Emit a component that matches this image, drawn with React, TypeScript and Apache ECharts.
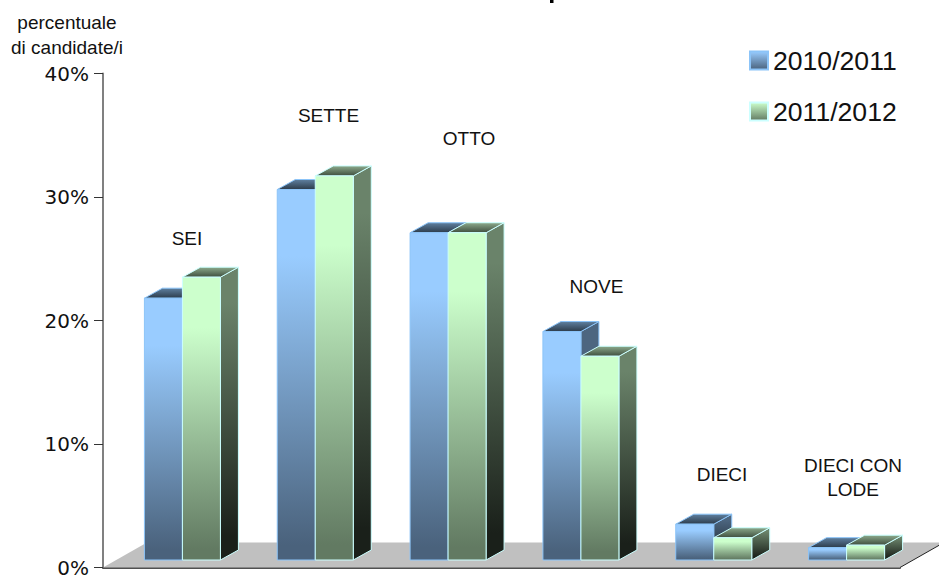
import React, { useEffect, useRef } from "react";
import * as echarts from "echarts";

const categories = ["SEI", "SETTE", "OTTO", "NOVE", "DIECI", "DIECI CON LODE"];
const seriesNames = ["2010/2011", "2011/2012"];
const values2010 = [21.2, 30.0, 26.5, 18.5, 2.9, 1.0];
const values2011 = [22.9, 31.1, 26.5, 16.5, 1.8, 1.2];
const yTicks = [0, 10, 20, 30, 40];

const FONT = '"Liberation Sans", Arial, sans-serif';
const DEPTH_X = 18;
const DEPTH_Y = 10;
const LIFT = 7.5;
const BAR_RATIO = 38 / 132.83;
const SHIFT = 13;

const vGrad = (a: string, b: string, hold = 0, end = 1) =>
  new echarts.graphic.LinearGradient(0, 0, 0, 1, [
    { offset: 0, color: a },
    { offset: hold, color: a },
    { offset: end, color: b },
    { offset: 1, color: b },
  ]);

const palette = [
  {
    front: ["#99CCFF", "#4A627C"],
    side: ["#4D6680", "#172027"],
    top: ["#5F80A0", "#2C3B4A"],
    edge: "#8CC4F8",
  },
  {
    front: ["#CCFFCC", "#627A62"],
    side: ["#6A836A", "#1A201A"],
    top: ["#8CAA8C", "#3E4E3E"],
    edge: "#CCFFFF",
  },
];

function barRenderer(idx: number) {
  const c = palette[idx];
  return (_p: any, api: any) => {
    const cat = api.value(0);
    const v = api.value(1);
    const base = api.coord([cat, 0]);
    const top = api.coord([cat, v]);
    const w = api.size([1, 0])[0] * BAR_RATIO;
    const x0 = base[0] + SHIFT + (idx === 0 ? -w : 0);
    const x1 = x0 + w;
    const yb = base[1] - LIFT;
    const yt = top[1] - LIFT;
    const lineW = { stroke: c.edge, lineWidth: 1 };
    return {
      type: "group",
      children: [
        {
          type: "polygon",
          shape: {
            points: [
              [x1, yt],
              [x1 + DEPTH_X, yt - DEPTH_Y],
              [x1 + DEPTH_X, yb - DEPTH_Y],
              [x1, yb],
            ],
          },
          style: { fill: vGrad(c.side[0], c.side[1], 0.12, 0.92), ...lineW },
        },
        {
          type: "polygon",
          shape: {
            points: [
              [x0, yt],
              [x0 + DEPTH_X, yt - DEPTH_Y],
              [x1 + DEPTH_X, yt - DEPTH_Y],
              [x1, yt],
            ],
          },
          style: { fill: vGrad(c.top[0], c.top[1]), ...lineW },
        },
        {
          type: "rect",
          shape: { x: x0, y: yt, width: w, height: yb - yt },
          style: { fill: vGrad(c.front[0], c.front[1], 0.18, 0.96), ...lineW },
        },
      ],
    };
  };
}

const floorRenderer = (p: any) => {
  const { x, y, width, height } = p.coordSys;
  const b = y + height;
  return {
    type: "group",
    children: [
      {
        type: "polygon",
        shape: {
          points: [
            [x, b],
            [x + width, b],
            [x + width + 44, b - 25],
            [x + 44, b - 25],
          ],
        },
        style: { fill: "#C0C0C0" },
      },
      {
        type: "line",
        shape: { x1: x + width, y1: b, x2: x + width + 44, y2: b - 25 },
        style: { stroke: "#222222", lineWidth: 1 },
      },
    ],
  };
};

const textEl = (text: string, x: number, y: number, size = 19) => ({
  type: "text",
  x,
  y,
  style: {
    text,
    fill: "#111111",
    font: `${size}px ${FONT}`,
    align: "center",
    verticalAlign: "middle",
  },
});

export default function App() {
  const ref = useRef<HTMLDivElement>(null);
  useEffect(() => {
    document.body.style.margin = "0";
    const chart = echarts.init(ref.current!, undefined, { renderer: "svg", width: 939, height: 575 });
    const mk = (i: number, vals: number[]) => ({
      type: "custom",
      name: seriesNames[i],
      z: 3 + i,
      renderItem: barRenderer(i),
      encode: { x: 0, y: 1 },
      itemStyle: {
        color: vGrad(palette[i].front[0], palette[i].front[1]),
        borderColor: palette[i].edge,
        borderWidth: 1,
      },
      data: vals.map((v, k) => [k, v]),
    });
    chart.setOption({
      animation: false,
      backgroundColor: "#FFFFFF",
      grid: { left: 103, right: 39, top: 73.5, bottom: 7.5, outerBoundsMode: "none" },
      legend: {
        orient: "vertical",
        left: 744,
        top: 42,
        itemWidth: 18,
        itemHeight: 18,
        itemGap: 24,
        icon: "rect",
        data: seriesNames,
        selectedMode: false,
        textStyle: { fontFamily: FONT, fontSize: 26.6, color: "#111111" },
      },
      xAxis: {
        type: "category",
        data: categories,
        axisLabel: { show: false },
        axisTick: { show: false },
        axisLine: { lineStyle: { color: "#505050", width: 2 } },
      },
      yAxis: {
        type: "value",
        min: yTicks[0],
        max: yTicks[yTicks.length - 1],
        interval: 10,
        splitLine: { show: false },
        axisTick: { show: true, length: 9, lineStyle: { color: "#333333", width: 1 } },
        axisLine: { show: true, lineStyle: { color: "#808080", width: 2 } },
        axisLabel: {
          formatter: "{value}%",
          fontFamily: '"DejaVu Sans", sans-serif',
          fontSize: 20,
          lineHeight: 14,
          color: "#111111",
          margin: 14,
        },
      },
      series: [
        {
          type: "custom",
          name: "floor",
          z: 1,
          silent: true,
          renderItem: floorRenderer,
          encode: { x: 0, y: 1 },
          data: [[0, 0]],
        },
        mk(0, values2010),
        mk(1, values2011),
      ],
      graphic: [
        textEl("percentuale", 67, 22),
        textEl("di candidate/i", 67, 47),
        textEl("SEI", 187, 238),
        textEl("SETTE", 328.5, 115),
        textEl("OTTO", 469, 138),
        textEl("NOVE", 596.5, 286),
        textEl("DIECI", 722, 474),
        textEl("DIECI CON", 853, 465),
        textEl("LODE", 853, 489),
        { type: "rect", shape: { x: 550, y: 0, width: 3.5, height: 3 }, style: { fill: "#000000" } },
      ],
    });
    return () => chart.dispose();
  }, []);
  return <div ref={ref} style={{ width: 939, height: 575 }} />;
}
